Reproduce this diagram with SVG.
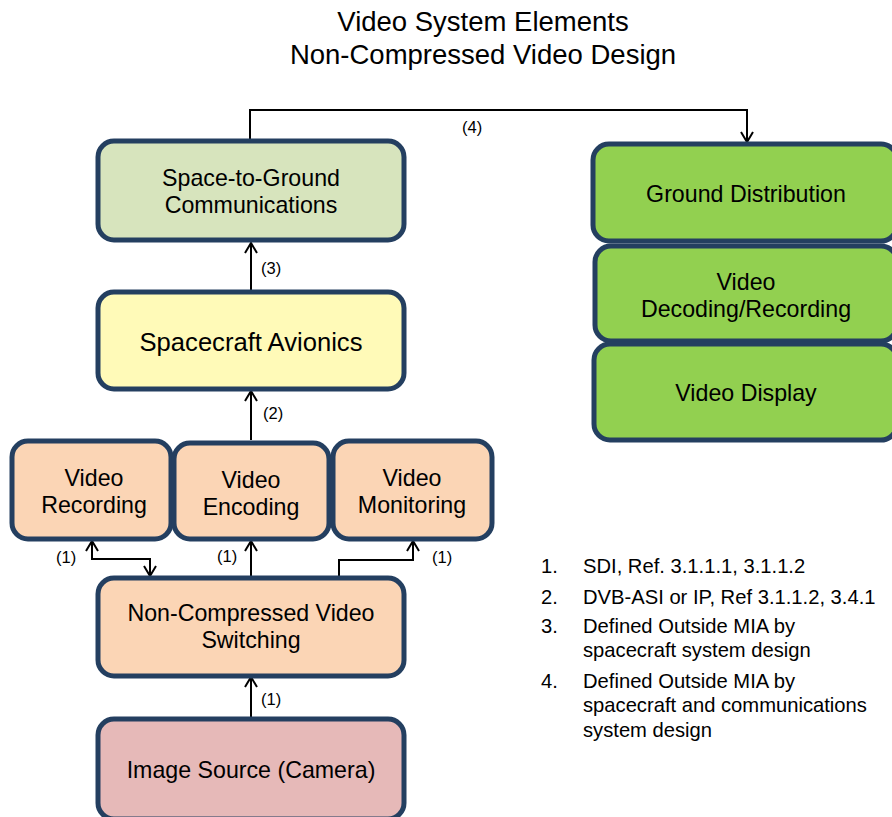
<svg xmlns="http://www.w3.org/2000/svg" width="892" height="817" viewBox="0 0 892 817">
<style>
.box{stroke:#243F60;stroke-width:5}
.t{font-family:"Liberation Sans",Arial,sans-serif;fill:#000;text-anchor:middle}
.n{font-size:23.2px}
.lab{font-family:"Liberation Sans",Arial,sans-serif;font-size:16.5px;fill:#000}
.leg{font-family:"Liberation Sans",Arial,sans-serif;font-size:20.2px;fill:#000}
.c{fill:none;stroke:#000;stroke-width:2}
</style>
<defs>
<marker id="ah" viewBox="0 0 14 14" refX="12" refY="7" markerWidth="14" markerHeight="14" markerUnits="userSpaceOnUse" orient="auto-start-reverse">
<path d="M2,1 L12,7 L2,13" fill="none" stroke="#000" stroke-width="2"/>
</marker>
</defs>
<rect width="892" height="817" fill="#fff"/>
<g id="title">
<text class="t" x="483" y="31" font-size="27.5">Video System Elements</text>
<text class="t" x="483" y="64" font-size="27.5">Non-Compressed Video Design</text>
</g>
<g id="connectors">
<path class="c" d="M250,140 V110 H747 V142" marker-end="url(#ah)"/>
<path class="c" d="M251,291 V243" marker-end="url(#ah)"/>
<path class="c" d="M251,440 V391" marker-end="url(#ah)"/>
<path class="c" d="M251,576 V541" marker-end="url(#ah)"/>
<path class="c" d="M92,541 V559 H150 V576" marker-start="url(#ah)" marker-end="url(#ah)"/>
<path class="c" d="M339,576 V560 H413 V541" marker-end="url(#ah)"/>
<path class="c" d="M251,717 V677" marker-end="url(#ah)"/>
<text class="lab" x="462" y="133">(4)</text>
<text class="lab" x="261" y="274">(3)</text>
<text class="lab" x="263" y="419">(2)</text>
<text class="lab" x="56" y="563">(1)</text>
<text class="lab" x="217" y="562">(1)</text>
<text class="lab" x="432" y="563">(1)</text>
<text class="lab" x="261" y="705">(1)</text>
</g>
<g id="space-to-ground">
<rect class="box" x="98" y="141" width="306" height="99" rx="16" fill="#D7E4BD"/>
<text class="t n" x="251" y="186">Space-to-Ground</text>
<text class="t n" x="251" y="213">Communications</text>
</g>
<g id="avionics">
<rect class="box" x="98" y="292" width="306" height="97" rx="16" fill="#FFFAB8"/>
<text class="t" x="251" y="351" font-size="25.6">Spacecraft Avionics</text>
</g>
<g id="video-recording">
<rect class="box" x="12" y="441" width="159" height="98" rx="16" fill="#FBD5B5"/>
<text class="t n" x="94" y="486">Video</text>
<text class="t n" x="94" y="513">Recording</text>
</g>
<g id="video-encoding">
<rect class="box" x="174" y="443" width="155" height="96" rx="16" fill="#FBD5B5"/>
<text class="t n" x="251" y="488">Video</text>
<text class="t n" x="251" y="515">Encoding</text>
</g>
<g id="video-monitoring">
<rect class="box" x="333" y="441" width="159" height="98" rx="16" fill="#FBD5B5"/>
<text class="t n" x="412" y="486">Video</text>
<text class="t n" x="412" y="513">Monitoring</text>
</g>
<g id="switching">
<rect class="box" x="98" y="578" width="306" height="98" rx="16" fill="#FBD5B5"/>
<text class="t n" x="251" y="621">Non-Compressed Video</text>
<text class="t n" x="251" y="648">Switching</text>
</g>
<g id="image-source">
<rect class="box" x="98" y="719" width="306" height="100" rx="16" fill="#E6B9B8"/>
<text class="t n" x="251" y="778">Image Source (Camera)</text>
</g>
<g id="ground-distribution">
<rect class="box" x="593" y="144" width="304" height="97" rx="16" fill="#92D050"/>
<text class="t n" x="746" y="202">Ground Distribution</text>
</g>
<g id="video-decoding">
<rect class="box" x="595" y="246" width="302" height="95" rx="16" fill="#92D050"/>
<text class="t n" x="746" y="290">Video</text>
<text class="t n" x="746" y="317">Decoding/Recording</text>
</g>
<g id="video-display">
<rect class="box" x="594" y="344" width="303" height="96" rx="16" fill="#92D050"/>
<text class="t n" x="746" y="401">Video Display</text>
</g>
<g id="legend">
<text class="leg" x="541" y="573">1.</text>
<text class="leg" x="583" y="573">SDI, Ref. 3.1.1.1, 3.1.1.2</text>
<text class="leg" x="541" y="604">2.</text>
<text class="leg" x="583" y="604">DVB-ASI or IP, Ref 3.1.1.2, 3.4.1</text>
<text class="leg" x="541" y="633">3.</text>
<text class="leg" x="583" y="633">Defined Outside MIA by</text>
<text class="leg" x="583" y="657">spacecraft system design</text>
<text class="leg" x="541" y="688">4.</text>
<text class="leg" x="583" y="688">Defined Outside MIA by</text>
<text class="leg" x="583" y="712">spacecraft and communications</text>
<text class="leg" x="583" y="737">system design</text>
</g>
</svg>
